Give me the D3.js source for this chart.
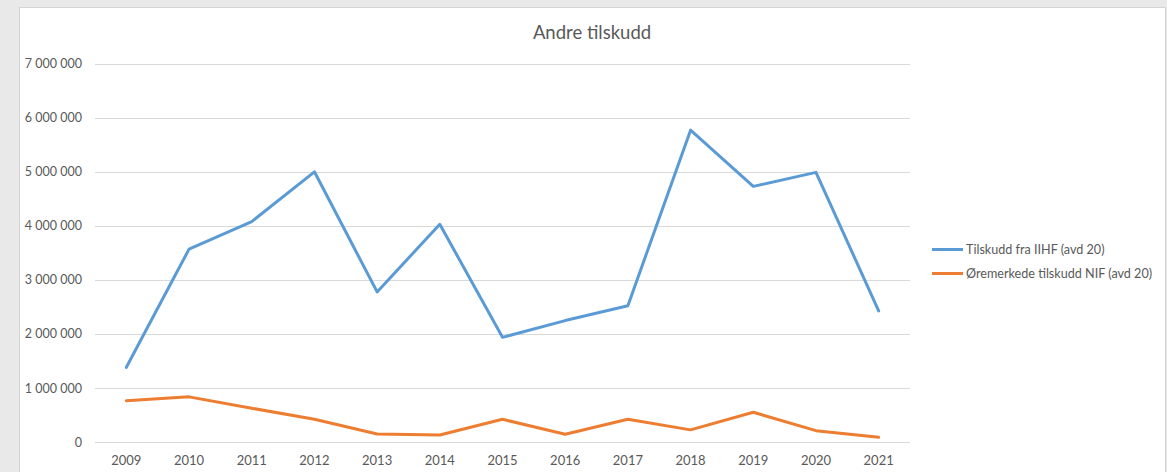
<!DOCTYPE html>
<html>
<head>
<meta charset="utf-8">
<script src="https://cdn.jsdelivr.net/npm/d3@7"></script>
<style>
  body { margin: 0; background: #e9e9e9; }
  svg { display: block; }
  text { font-family: Lato, "Open Sans", sans-serif; fill: #595959; }
</style>
</head>
<body>
<svg id="chart" width="1167" height="472"></svg>
<script>
var years = ["2009","2010","2011","2012","2013","2014","2015","2016","2017","2018","2019","2020","2021"];
var iihf = [1386000, 3570000, 4080000, 5000000, 2780000, 4030000, 1940000, 2250000, 2525000, 5770000, 4730000, 4990000, 2430000];
var nif = [770000, 840000, 630000, 425000, 153000, 135000, 425000, 148000, 425000, 230000, 555000, 215000, 92000];
var yTicks = [0, 1000000, 2000000, 3000000, 4000000, 5000000, 6000000, 7000000];
var seriesNames = ["Tilskudd fra IIHF (avd 20)", "Øremerkede tilskudd NIF (avd 20)"];
var colors = ["#5B9BD5", "#ED7D31"];

var svg = d3.select("#chart");

// backdrop and chart area
svg.append("rect")
  .attr("x", 19.5).attr("y", 7.5)
  .attr("width", 1146).attr("height", 470)
  .attr("fill", "#fff")
  .attr("stroke", "#d4d4d4");

var x = d3.scaleBand().domain(years).range([95, 910]),
    y = d3.scaleLinear().domain([0, 7000000]).range([442.3, 63.6]);

var fmt = function(d) { return d3.format(",")(d).replace(/,/g, " "); };

svg.append("g")
  .selectAll("line")
  .data(yTicks)
  .join("line")
    .attr("x1", 95).attr("x2", 910)
    .attr("y1", function(d) { return Math.round(y(d)) + 0.5; })
    .attr("y2", function(d) { return Math.round(y(d)) + 0.5; })
    .attr("stroke", "#d9d9d9")
    .attr("stroke-width", 1);

svg.append("g")
  .selectAll("text")
  .data(yTicks)
  .join("text")
    .attr("x", 82)
    .attr("y", function(d) { return y(d); })
    .attr("dy", "0.35em")
    .attr("text-anchor", "end")
    .attr("font-size", 12.5)
    .text(fmt);

svg.append("g")
  .selectAll("text")
  .data(years)
  .join("text")
    .attr("x", function(d) { return x(d) + x.bandwidth() / 2; })
    .attr("y", 465)
    .attr("text-anchor", "middle")
    .attr("font-size", 13)
    .text(function(d) { return d; });

svg.append("text")
  .attr("x", 592)
  .attr("y", 39)
  .attr("text-anchor", "middle")
  .attr("font-size", 18.5)
  .text("Andre tilskudd");

var line = d3.line()
  .x(function(d, i) { return x(years[i]) + x.bandwidth() / 2; })
  .y(function(d) { return y(d); });

[iihf, nif].forEach(function(s, k) {
  svg.append("path")
    .datum(s)
    .attr("d", line)
    .attr("fill", "none")
    .attr("stroke", colors[k])
    .attr("stroke-width", 3)
    .attr("stroke-linecap", "round")
    .attr("stroke-linejoin", "round");
});

var legend = svg.append("g")
  .selectAll("g")
  .data(seriesNames)
  .join("g")
    .attr("transform", function(d, i) { return "translate(932," + (249.5 + i * 24) + ")"; });

legend.append("line")
  .attr("x1", 0).attr("x2", 31)
  .attr("stroke", function(d, i) { return colors[i]; })
  .attr("stroke-width", 3);

legend.append("text")
  .attr("x", 34)
  .attr("dy", "0.35em")
  .attr("font-size", 12.6)
  .text(function(d) { return d; });
</script>
</body>
</html>
